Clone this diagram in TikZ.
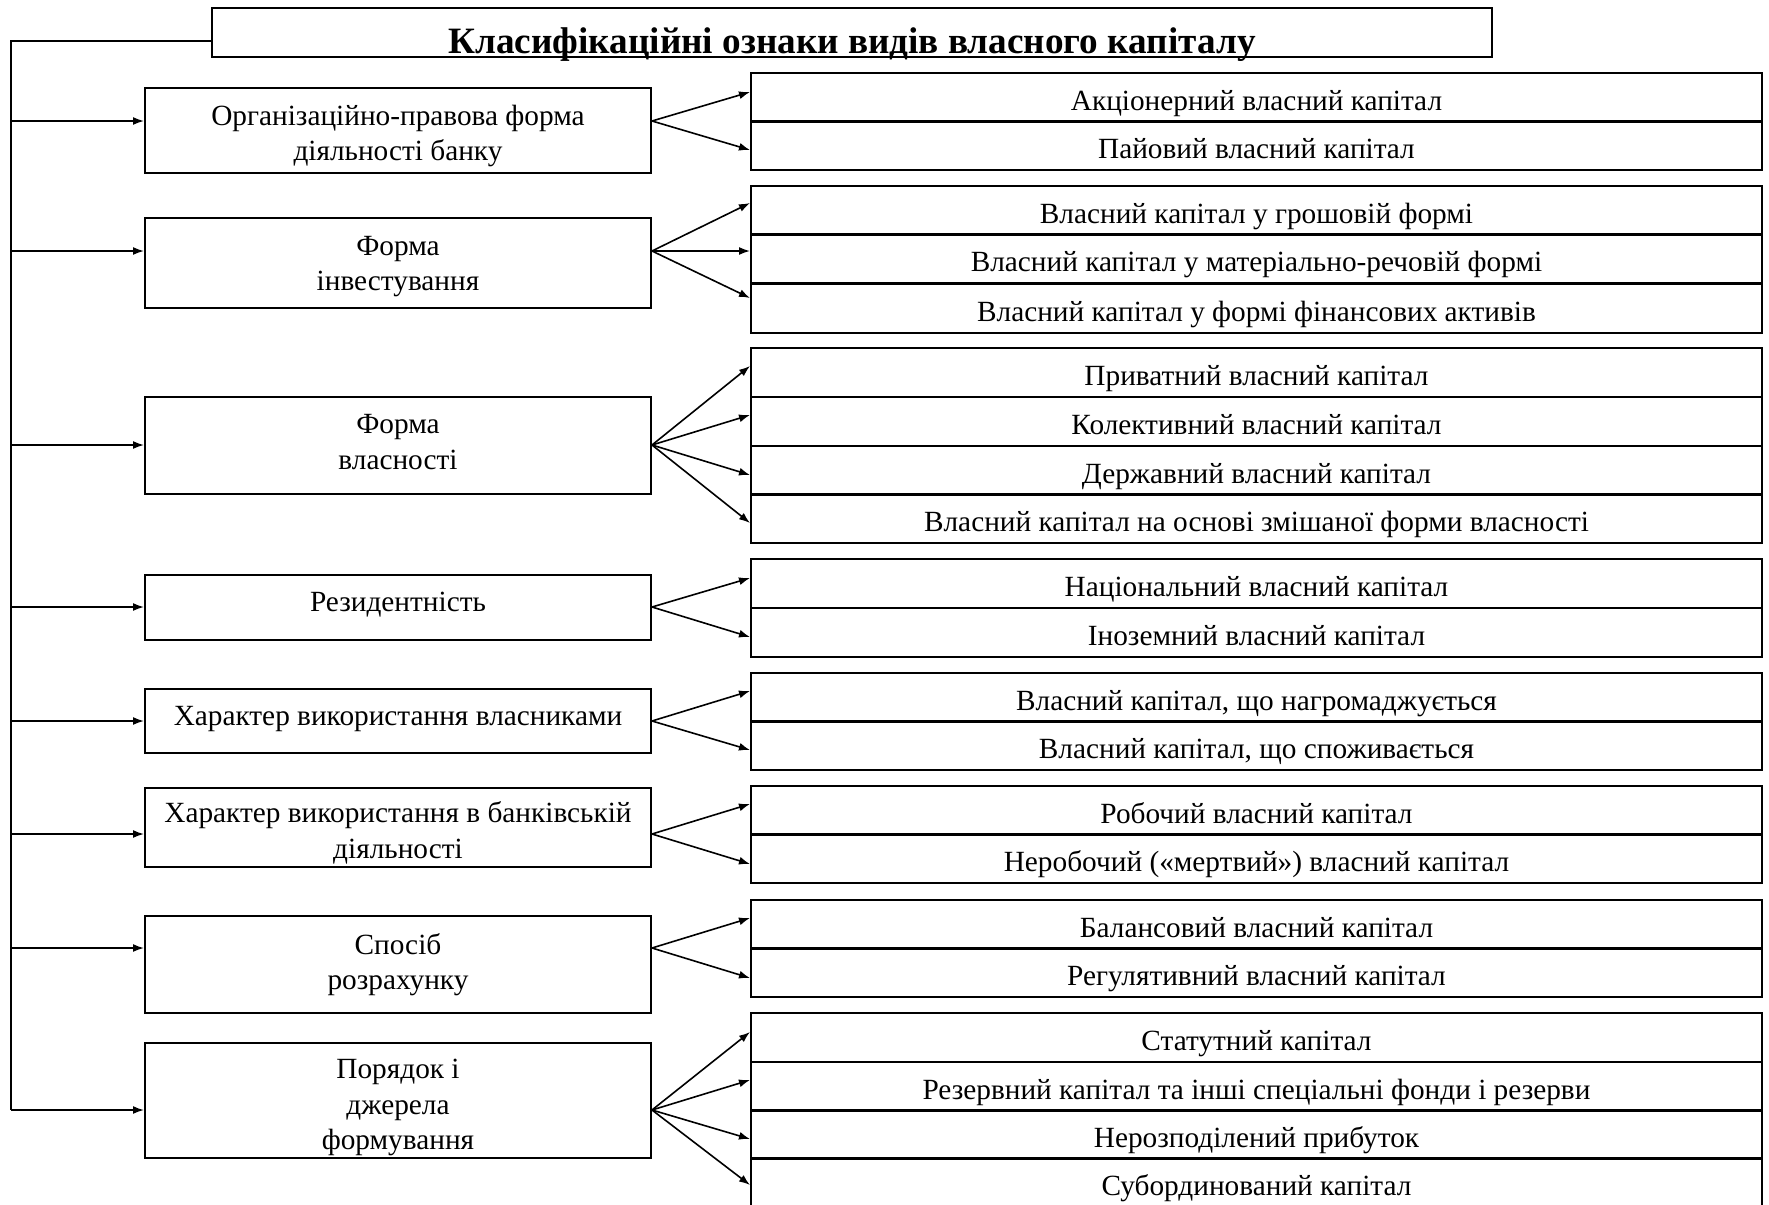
\documentclass[tikz,border=0pt]{standalone}
\usepackage{fontspec}
\setmainfont{Liberation Serif}
\usetikzlibrary{arrows.meta}

\begin{document}
\begin{tikzpicture}[x=0.5pt, y=-0.5pt,
        box/.style={draw, line width=1pt, inner sep=0pt, align=center, font=\fontsize{14.65}{17.6}\selectfont},
        crit/.style={box, minimum width=253pt},
        kind/.style={box, minimum width=505.5pt, minimum height=24.5pt, text height=14pt, text depth=1pt},
        arr/.style={line width=0.8pt, -{Latex[length=5.5pt, width=4pt]}}]
        \useasboundingbox (0,0) rectangle (1769,1205);
        % Draw the heading.
        \node[box, minimum width=640pt, minimum height=24.5pt, text height=20.5pt, text depth=0pt, font=\fontsize{18.6}{20}\selectfont\bfseries] (title) at (852,32.5) {Класифікаційні ознаки видів власного капіталу};
        % Specify the criteria.
        \node[crit, minimum height=42.5pt] (b1) at (398,130.5) {\rule{0pt}{15.9pt}Організаційно-правова форма\\діяльності банку};
        \node[crit, minimum height=45pt] (b2) at (398,263) {\rule{0pt}{13.1pt}Форма\\інвестування};
        \node[crit, minimum height=48.5pt] (b3) at (398,445.5) {Форма\\власності\rule[-3.5pt]{0pt}{3.5pt}};
        \node[crit, minimum height=32.5pt, text height=10pt, text depth=6.5pt] (b4) at (398,607.5) {Резидентність};
        \node[crit, minimum height=32pt, text height=10pt, text depth=6pt] (b5) at (398,721) {Характер використання власниками};
        \node[crit, minimum height=39.5pt] (b6) at (398,827.5) {\rule{0pt}{15.9pt}Характер використання в банківській\\діяльності};
        \node[crit, minimum height=48.5pt] (b7) at (398,964.5) {Спосіб\\розрахунку};
        \node[crit, minimum height=57.5pt] (b8) at (398,1100.5) {\rule{0pt}{16.8pt}Порядок і\\джерела\\формування};
        % Specify the kinds of capital.
        \node[kind] (r11) at (1256.5,97) {Акціонерний власний капітал};
        \node[kind] (r12) at (1256.5,145) {Пайовий власний капітал};
        \node[kind] (r21) at (1256.5,210) {Власний капітал у грошовій формі};
        \node[kind] (r22) at (1256.5,258.5) {Власний капітал у матеріально-речовій формі};
        \node[kind] (r23) at (1256.5,308) {Власний капітал у формі фінансових активів};
        \node[kind] (r31) at (1256.5,372.5) {Приватний власний капітал};
        \node[kind] (r32) at (1256.5,421.5) {Колективний власний капітал};
        \node[kind] (r33) at (1256.5,470) {Державний власний капітал};
        \node[kind] (r34) at (1256.5,518.5) {Власний капітал на основі змішаної форми власності};
        \node[kind] (r41) at (1256.5,583) {Національний власний капітал};
        \node[kind] (r42) at (1256.5,632) {Іноземний власний капітал};
        \node[kind] (r51) at (1256.5,697) {Власний капітал, що нагромаджується};
        \node[kind] (r52) at (1256.5,745) {Власний капітал, що споживається};
        \node[kind] (r61) at (1256.5,810) {Робочий власний капітал};
        \node[kind] (r62) at (1256.5,858.5) {Неробочий («мертвий») власний капітал};
        \node[kind] (r71) at (1256.5,924) {Балансовий власний капітал};
        \node[kind] (r72) at (1256.5,972.5) {Регулятивний власний капітал};
        \node[kind] (r81) at (1256.5,1037.5) {Статутний капітал};
        \node[kind] (r82) at (1256.5,1086) {Резервний капітал та інші спеціальні фонди і резерви};
        \node[kind] (r83) at (1256.5,1134) {Нерозподілений прибуток};
        \node[kind] (r84) at (1256.5,1182.5) {Субординований капітал};
        % Points on the left spine.
        \coordinate (s0) at (11,41);
        \coordinate (s1) at (11,121);
        \coordinate (s2) at (11,251);
        \coordinate (s3) at (11,445);
        \coordinate (s4) at (11,607);
        \coordinate (s5) at (11,721);
        \coordinate (s6) at (11,834);
        \coordinate (s7) at (11,948);
        \coordinate (s8) at (11,1110);
        % Draw the spine and its branches.
        \draw[line width=0.8pt] (s0 -| title.west) -- (s0) -- (s8);
        \draw[arr] (s1) -- (s1 -| b1.west);
        \draw[arr] (s2) -- (s2 -| b2.west);
        \draw[arr] (s3) -- (s3 -| b3.west);
        \draw[arr] (s4) -- (s4 -| b4.west);
        \draw[arr] (s5) -- (s5 -| b5.west);
        \draw[arr] (s6) -- (s6 -| b6.west);
        \draw[arr] (s7) -- (s7 -| b7.west);
        \draw[arr] (s8) -- (s8 -| b8.west);
        % Draw the fans.
        \draw[arr] (s1 -| b1.east) -- ([yshift=2.5pt]r11.west);
        \draw[arr] (s1 -| b1.east) -- ([yshift=-2.5pt]r12.west);
        \draw[arr] (s2 -| b2.east) -- ([yshift=3.5pt]r21.west);
        \draw[arr] (s2 -| b2.east) -- ([yshift=3.75pt]r22.west);
        \draw[arr] (s2 -| b2.east) -- ([yshift=5pt]r23.west);
        \draw[arr] (s3 -| b3.east) -- ([yshift=3.25pt]r31.west);
        \draw[arr] (s3 -| b3.east) -- ([yshift=3.25pt]r32.west);
        \draw[arr] (s3 -| b3.east) -- ([yshift=-2.5pt]r33.west);
        \draw[arr] (s3 -| b3.east) -- ([yshift=-2.25pt]r34.west);
        \draw[arr] (s4 -| b4.east) -- ([yshift=2.5pt]r41.west);
        \draw[arr] (s4 -| b4.east) -- ([yshift=-2.5pt]r42.west);
        \draw[arr] (s5 -| b5.east) -- ([yshift=3pt]r51.west);
        \draw[arr] (s5 -| b5.east) -- ([yshift=-2.5pt]r52.west);
        \draw[arr] (s6 -| b6.east) -- ([yshift=3pt]r61.west);
        \draw[arr] (s6 -| b6.east) -- ([yshift=-2.75pt]r62.west);
        \draw[arr] (s7 -| b7.east) -- ([yshift=3pt]r71.west);
        \draw[arr] (s7 -| b7.east) -- ([yshift=-2.75pt]r72.west);
        \draw[arr] (s8 -| b8.east) -- ([yshift=2.75pt]r81.west);
        \draw[arr] (s8 -| b8.east) -- ([yshift=3pt]r82.west);
        \draw[arr] (s8 -| b8.east) -- ([yshift=-2.5pt]r83.west);
        \draw[arr] (s8 -| b8.east) -- ([yshift=-1.25pt]r84.west);
\end{tikzpicture}
\end{document}
